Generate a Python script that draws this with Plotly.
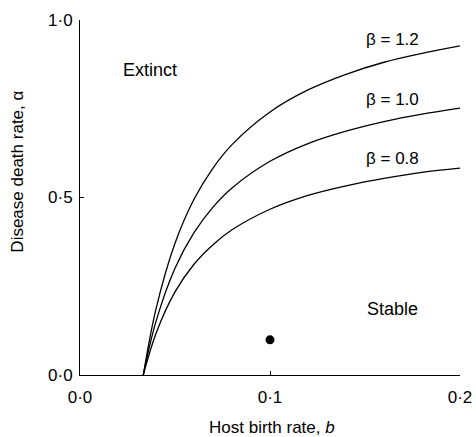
import plotly.graph_objects as go

# Host birth rate b (x) and disease death rate alpha (y)
b_vals = [0.0333, 0.04, 0.05, 0.06, 0.07, 0.08, 0.10, 0.12, 0.14, 0.16, 0.18, 0.20]
alpha_beta_12 = [0.0, 0.186, 0.371, 0.495, 0.583, 0.649, 0.741, 0.803, 0.847, 0.881, 0.906, 0.927]
alpha_beta_10 = [0.0, 0.151, 0.301, 0.401, 0.473, 0.527, 0.602, 0.652, 0.687, 0.714, 0.735, 0.752]
alpha_beta_08 = [0.0, 0.117, 0.234, 0.312, 0.367, 0.409, 0.467, 0.506, 0.533, 0.554, 0.571, 0.583]

point_b = [0.1]
point_alpha = [0.099]

x_ticks = [0.0, 0.1, 0.2]
x_ticktext = ["0·0", "0·1", "0·2"]
y_ticks = [0.0, 0.5, 1.0]
y_ticktext = ["0·0", "0·5", "1·0"]

curve_labels = ["β = 1.2", "β = 1.0", "β = 0.8"]
curve_label_b = [0.1645, 0.1645, 0.1645]
curve_label_alpha = [0.944, 0.777, 0.610]

FONT = "Liberation Sans, Arial, Helvetica, sans-serif"

fig = go.Figure()
for ys in (alpha_beta_12, alpha_beta_10, alpha_beta_08):
    fig.add_trace(go.Scatter(x=b_vals, y=ys, mode="lines",
                             line=dict(color="black", width=1.3, shape="spline", smoothing=1.0),
                             showlegend=False, hoverinfo="skip"))
fig.add_trace(go.Scatter(x=point_b, y=point_alpha, mode="markers",
                         marker=dict(color="black", size=9), showlegend=False))

for txt, xb, ya in zip(curve_labels, curve_label_b, curve_label_alpha):
    fig.add_annotation(x=xb, y=ya, text=txt, showarrow=False, xref="x", yref="y",
                       font=dict(size=17, color="black", family=FONT))
fig.add_annotation(x=0.0371, y=0.859, text="Extinct", showarrow=False, xref="x", yref="y",
                   font=dict(size=18, color="black", family=FONT))
fig.add_annotation(x=0.1645, y=0.187, text="Stable", showarrow=False, xref="x", yref="y",
                   font=dict(size=18, color="black", family=FONT))

fig.add_annotation(x=0.504, y=-0.149, xref="paper", yref="paper", text="Host birth rate, <i>b</i>",
                   showarrow=False, font=dict(size=17, color="black", family=FONT), yanchor="middle")
fig.add_annotation(x=-0.163, y=0.573, xref="paper", yref="paper", text="Disease death rate, α",
                   showarrow=False, textangle=-90, font=dict(size=17, color="black", family=FONT),
                   xanchor="center", yanchor="middle")

axis_common = dict(showline=True, linecolor="black", linewidth=1, ticks="inside", ticklen=4,
                   tickcolor="black", showgrid=False, zeroline=False, automargin=False,
                   tickfont=dict(size=17, color="black", family=FONT))
fig.update_xaxes(range=[0, 0.2], tickvals=x_ticks, ticktext=x_ticktext, ticklabelstandoff=7, **axis_common)
fig.update_yaxes(range=[0, 1.0], tickvals=y_ticks, ticktext=y_ticktext, ticklabelstandoff=3, **axis_common)

fig.update_layout(width=476, height=437, margin=dict(l=80, r=16, t=20, b=62, autoexpand=False),
                  plot_bgcolor="white", paper_bgcolor="white",
                  font=dict(family=FONT, color="black"))
fig.write_html("out.html", config={"displayModeBar": False},
               post_script="document.body.style.margin='0px';document.body.style.overflow='hidden';")
